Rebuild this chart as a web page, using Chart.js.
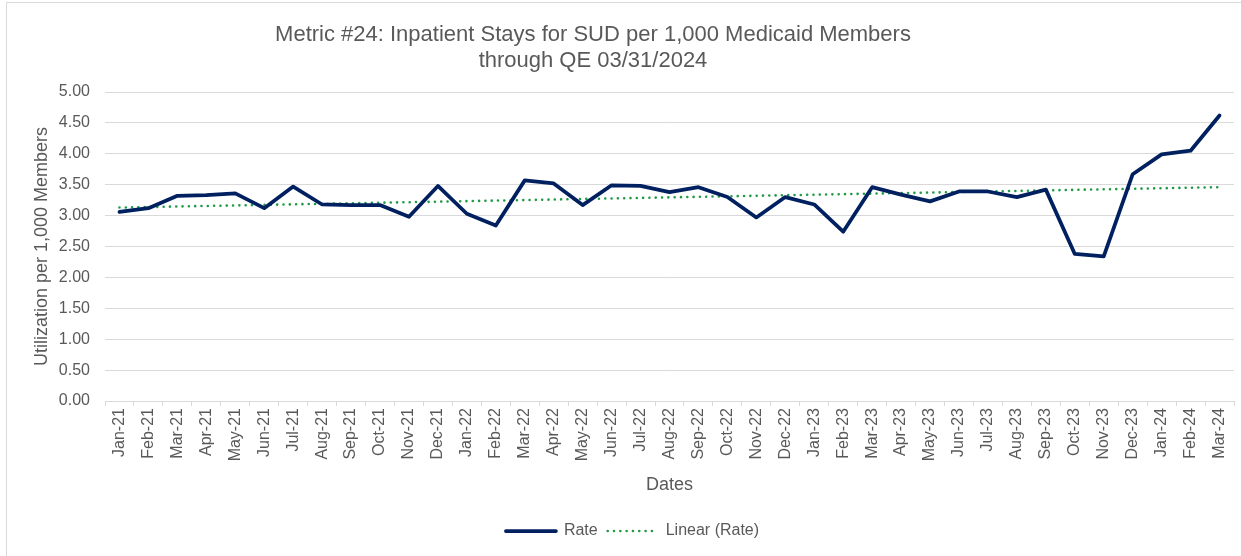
<!DOCTYPE html>
<html lang="en">
<head>
    <meta charset="UTF-8">
    <title>Metric #24: Inpatient Stays for SUD</title>
    <script src="https://cdn.jsdelivr.net/npm/chart.js"></script>
    <style>
        body { margin: 0; background: #fff; overflow: hidden; font-family: "Liberation Sans", Arial, sans-serif; }
        .frame { position: absolute; left: 6px; top: 2px; width: 1300px; height: 600px; border: 1px solid #d9d9d9; }
        .title { position: absolute; left: 0; top: 21px; width: 1186px; text-align: center; color: #595959; font-size: 22px; line-height: 26px; }
        #chart { position: absolute; left: 0; top: 0; }
    </style>
</head>
<body>
    <div class="frame"></div>
    <canvas id="chart" width="1241" height="556"></canvas>
    <div class="title">Metric #24: Inpatient Stays for SUD per 1,000 Medicaid Members<br>through QE 03/31/2024</div>

    <script>
        const months = [
            'Jan-21', 'Feb-21', 'Mar-21', 'Apr-21', 'May-21', 'Jun-21', 'Jul-21', 'Aug-21', 'Sep-21', 'Oct-21', 'Nov-21', 'Dec-21',
            'Jan-22', 'Feb-22', 'Mar-22', 'Apr-22', 'May-22', 'Jun-22', 'Jul-22', 'Aug-22', 'Sep-22', 'Oct-22', 'Nov-22', 'Dec-22',
            'Jan-23', 'Feb-23', 'Mar-23', 'Apr-23', 'May-23', 'Jun-23', 'Jul-23', 'Aug-23', 'Sep-23', 'Oct-23', 'Nov-23', 'Dec-23',
            'Jan-24', 'Feb-24', 'Mar-24'
        ];
        const rate = [
            3.06, 3.12, 3.32, 3.33, 3.36, 3.12, 3.47, 3.18, 3.17, 3.17, 2.98, 3.48,
            3.03, 2.84, 3.57, 3.52, 3.17, 3.49, 3.48, 3.38, 3.46, 3.30, 2.97, 3.30,
            3.18, 2.74, 3.46, 3.34, 3.23, 3.39, 3.39, 3.30, 3.42, 2.38, 2.34, 3.67,
            3.99, 4.05, 4.62
        ];
        // linear trend, first and last month only; the line spans the gap
        const trendStart = 3.13;
        const trendEnd = 3.46;
        const yTicks = { min: 0, max: 5, step: 0.5 };

        const trend = months.map((m, i) => i === 0 ? trendStart : (i === months.length - 1 ? trendEnd : null));

        const grey = '#595959';
        const gridColor = '#d9d9d9';
        const font = 'Liberation Sans, Arial, sans-serif';

        // point-style legend items take the point's style, so copy the line's dash/width back
        function legendLabels(chart) {
            const items = Chart.defaults.plugins.legend.labels.generateLabels(chart);
            items.forEach(item => {
                const ds = chart.data.datasets[item.datasetIndex];
                item.lineDash = ds.borderDash || [];
                item.lineWidth = ds.borderWidth;
                item.lineCap = ds.borderCapStyle || 'butt';
                item.strokeStyle = ds.borderColor;
            });
            return items;
        }

        new Chart(document.getElementById('chart'), {
            type: 'line',
            data: {
                labels: months,
                datasets: [
                    {
                        label: 'Rate',
                        data: rate,
                        borderColor: '#002060',
                        backgroundColor: '#002060',
                        borderWidth: 3.75,
                        borderJoinStyle: 'round',
                        borderCapStyle: 'round',
                        pointRadius: 0,
                        tension: 0
                    },
                    {
                        label: 'Linear (Rate)',
                        data: trend,
                        borderColor: '#1f9a45',
                        backgroundColor: '#1f9a45',
                        borderWidth: 2.6,
                        borderDash: [0.01, 6.3],
                        borderCapStyle: 'round',
                        pointRadius: 0,
                        spanGaps: true
                    }
                ]
            },
            options: {
                responsive: false,
                devicePixelRatio: 1,
                animation: false,
                layout: { padding: { left: 31, right: 7, top: 92, bottom: 7 } },
                plugins: {
                    title: { display: false },
                    tooltip: { enabled: false },
                    legend: {
                        position: 'bottom',
                        labels: {
                            color: grey,
                            font: { family: font, size: 16 },
                            usePointStyle: true,
                            pointStyle: 'line',
                            pointStyleWidth: 50,
                            padding: 10,
                            generateLabels: legendLabels
                        }
                    }
                },
                scales: {
                    x: {
                        offset: true,
                        afterFit: (s) => { s.height = 112; },
                        grid: { offset: true, drawOnChartArea: false, color: gridColor, tickLength: 5 },
                        border: { color: gridColor },
                        ticks: {
                            color: grey,
                            font: { family: font, size: 16 },
                            minRotation: 90,
                            maxRotation: 90,
                            autoSkip: false,
                            padding: 2
                        },
                        title: {
                            display: true,
                            text: 'Dates',
                            color: grey,
                            font: { family: font, size: 18 },
                            padding: { top: 0, bottom: 17 }
                        }
                    },
                    y: {
                        min: yTicks.min,
                        max: yTicks.max,
                        afterFit: (s) => { s.width = 74; },
                        grid: { color: gridColor, drawTicks: false },
                        border: { display: false },
                        ticks: {
                            stepSize: yTicks.step,
                            color: grey,
                            font: { family: font, size: 16 },
                            padding: 15,
                            callback: (v) => v.toFixed(2)
                        },
                        title: {
                            display: true,
                            text: 'Utilization per 1,000 Members',
                            color: grey,
                            font: { family: font, size: 18 },
                            padding: { top: 0, bottom: 0 }
                        }
                    }
                }
            }
        });
    </script>
</body>
</html>
